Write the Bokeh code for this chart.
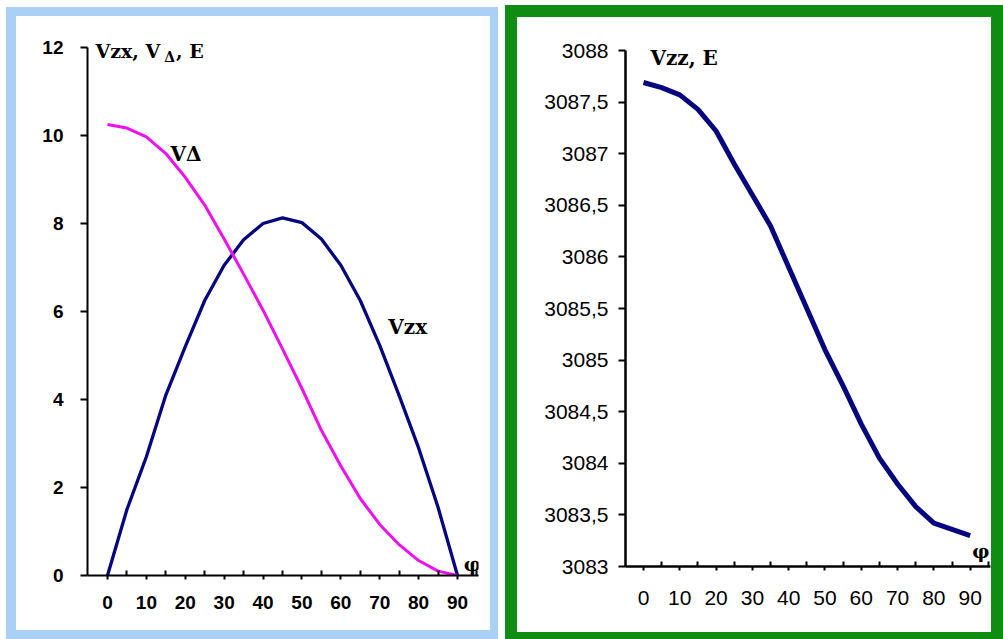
from bokeh.plotting import figure
from bokeh.models import Range1d, FixedTicker, Label, Div
from bokeh.layouts import row, column
from bokeh.embed import file_html
from bokeh.resources import INLINE

# ---------------- data ----------------
phi = [0, 5, 10, 15, 20, 25, 30, 35, 40, 45, 50, 55, 60, 65, 70, 75, 80, 85, 90]
v_zx = [0.0, 1.5, 2.7, 4.1, 5.2, 6.25, 7.05, 7.63, 8.0, 8.13, 8.02, 7.65, 7.05, 6.25,
        5.23, 4.09, 2.9, 1.55, 0.0]
v_delta = [10.25, 10.17, 9.97, 9.59, 9.05, 8.42, 7.65, 6.85, 6.03, 5.15, 4.25, 3.3,
           2.49, 1.75, 1.16, 0.7, 0.34, 0.1, 0.0]
v_zz = [3087.69, 3087.64, 3087.57, 3087.43, 3087.22, 3086.9, 3086.6, 3086.3, 3085.9,
        3085.5, 3085.1, 3084.75, 3084.38, 3084.05, 3083.8, 3083.58, 3083.42, 3083.36,
        3083.30]

x_ticks = [0, 10, 20, 30, 40, 50, 60, 70, 80, 90]
x_minor_ticks = [5, 15, 25, 35, 45, 55, 65, 75, 85, 95]
left_y_ticks = [0, 2, 4, 6, 8, 10, 12]
right_y_ticks = [3083, 3083.5, 3084, 3084.5, 3085, 3085.5, 3086, 3086.5, 3087, 3087.5, 3088]
right_y_labels = ["3083", "3083,5", "3084", "3084,5", "3085", "3085,5", "3086", "3086,5",
                  "3087", "3087,5", "3088"]

NAVY = "#06067e"
MAGENTA = "#ee10ee"
BLUE_FRAME = "#a9d1f6"
GREEN_FRAME = "#0f8c12"
SERIF = "DejaVu Serif"


def block(w, h, color):
    return Div(text="", width=w, height=h, margin=0,
               styles={"background-color": color})


def base_axes(p, label_size, label_style, x_standoff, y_standoff, lw):
    p.grid.visible = False
    p.outline_line_color = None
    p.background_fill_color = "white"
    p.border_fill_color = "white"
    for ax in (p.xaxis, p.yaxis):
        ax.axis_line_color = "black"
        ax.axis_line_width = lw
        ax.major_tick_line_color = "black"
        ax.major_tick_line_width = 2
        ax.minor_tick_line_color = "black"
        ax.minor_tick_line_width = 2
        ax.major_label_text_color = "black"
        ax.major_label_text_font = "Liberation Sans"
        ax.major_label_text_font_size = label_size
        ax.major_label_text_font_style = label_style
    p.xaxis.ticker = FixedTicker(ticks=x_ticks, minor_ticks=x_minor_ticks)
    p.xaxis.major_tick_out = 4
    p.xaxis.major_tick_in = 0
    p.xaxis.minor_tick_in = 5
    p.xaxis.minor_tick_out = 0
    p.xaxis.major_label_standoff = x_standoff
    p.yaxis.major_tick_out = 7
    p.yaxis.major_tick_in = 0
    p.yaxis.minor_tick_in = 0
    p.yaxis.minor_tick_out = 0
    p.yaxis.major_label_standoff = y_standoff


def add_label(p, text, x, y, size="19px", baseline="alphabetic"):
    p.add_layout(Label(x=x, y=y, text=text, text_font=SERIF, text_font_style="bold",
                       text_font_size=size, text_color="black",
                       text_baseline=baseline, text_align="left"))


# ---------------- left panel ----------------
p1 = figure(width=474, height=614, x_range=Range1d(-5.14, 95.4),
            y_range=Range1d(0, 12.705),
            output_backend="svg", toolbar_location=None,
            min_border_left=71, min_border_right=12, min_border_top=0,
            min_border_bottom=55)
base_axes(p1, "19px", "bold", 16, 17, 2)
p1.yaxis.ticker = FixedTicker(ticks=left_y_ticks, minor_ticks=[])
p1.yaxis.bounds = (0, 12)

p1.line(phi, v_zx, line_color=NAVY, line_width=3.3, line_join="round")
p1.line(phi, v_delta, line_color=MAGENTA, line_width=3, line_join="round")

add_label(p1, "Vzx, V", -3.08, 11.91)
add_label(p1, "Δ", 14.6, 11.78, size="14px")
add_label(p1, ", E", 17.6, 11.91)
add_label(p1, "VΔ", 16.2, 9.59, size="20px")
add_label(p1, "Vzx", 72.2, 5.64, size="20px")
add_label(p1, "φ", 91.6, 0.27, baseline="middle")

# ---------------- right panel ----------------
p2 = figure(width=474, height=604, x_range=Range1d(-4.96, 95.6),
            y_range=Range1d(3083, 3088.32),
            output_backend="svg", toolbar_location=None,
            min_border_left=108, min_border_right=1, min_border_top=0,
            min_border_bottom=55)
base_axes(p2, "21px", "normal", 20, 10, 2.5)
p2.yaxis.ticker = FixedTicker(ticks=right_y_ticks, minor_ticks=[])
p2.yaxis.major_label_overrides = dict(zip(right_y_ticks, right_y_labels))
p2.yaxis.bounds = (3083, 3088)

p2.line(phi, v_zz, line_color=NAVY, line_width=5, line_join="round")

add_label(p2, "Vzz, E", 1.9, 3087.93, size="20px")
add_label(p2, "φ", 90.6, 3083.155, baseline="middle")

# ---------------- framed layout ----------------
left_panel = column(
    block(492, 7, "white"),
    block(492, 9, BLUE_FRAME),
    row(block(10, 614, BLUE_FRAME), p1, block(8, 614, BLUE_FRAME)),
    block(492, 9, BLUE_FRAME),
)
right_panel = column(
    block(498, 5, "white"),
    block(498, 12, GREEN_FRAME),
    row(block(12, 615, GREEN_FRAME),
        column(p2, block(474, 11, "white")),
        block(12, 615, GREEN_FRAME)),
    block(498, 7, GREEN_FRAME),
)
layout = row(block(6, 639, "white"), left_panel, block(7, 639, "white"), right_panel)

open("out.html", "w").write(file_html(layout, INLINE))
